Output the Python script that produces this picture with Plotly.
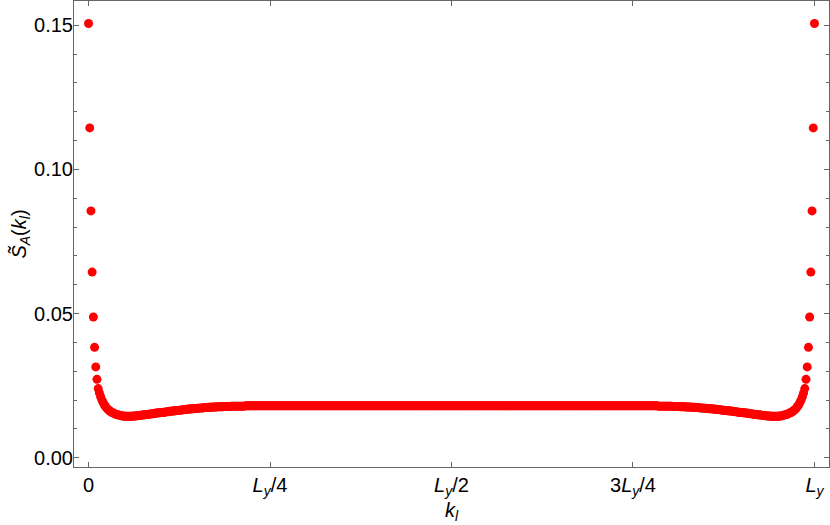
import plotly.graph_objects as go

# ---- data ----
Ly = 600
k_values = list(range(0, Ly + 1))

s_edge_left = [
    0.1506, 0.1144, 0.0856, 0.0644, 0.0488, 0.0383, 0.0315, 0.0272,
    0.0240, 0.0225, 0.0212, 0.0201, 0.0192, 0.0184, 0.0178, 0.0172, 0.0168, 0.0164, 0.0161, 0.0158,
    0.0156, 0.0154, 0.0152, 0.0150, 0.0149, 0.0148, 0.0147, 0.0146, 0.0145, 0.0145,
    0.0144, 0.0144, 0.0144, 0.0144, 0.0144, 0.0144, 0.0144, 0.0145, 0.0145, 0.0145,
    0.0146, 0.0146, 0.0147, 0.0147, 0.0148, 0.0148, 0.0149, 0.0149, 0.0150, 0.0150,
    0.0151, 0.0152, 0.0152, 0.0153, 0.0153, 0.0154, 0.0155, 0.0155, 0.0156, 0.0156,
    0.0157, 0.0157, 0.0158, 0.0158, 0.0159, 0.0160, 0.0160, 0.0161, 0.0161, 0.0162,
    0.0162, 0.0163, 0.0163, 0.0164, 0.0164, 0.0165, 0.0165, 0.0166, 0.0166, 0.0167,
    0.0167, 0.0168, 0.0168, 0.0169, 0.0169, 0.0170, 0.0170, 0.0170, 0.0171, 0.0171,
    0.0172, 0.0172, 0.0172, 0.0173, 0.0173, 0.0173, 0.0174, 0.0174, 0.0174, 0.0175,
    0.0175, 0.0175, 0.0175, 0.0176, 0.0176, 0.0176, 0.0176, 0.0177, 0.0177, 0.0177,
    0.0177, 0.0177, 0.0178, 0.0178, 0.0178, 0.0178, 0.0178, 0.0178, 0.0179, 0.0179,
    0.0179, 0.0179, 0.0179, 0.0179, 0.0179, 0.0179, 0.0179, 0.0179, 0.0179, 0.0179,
]

s_plateau = [
    0.0180, 0.0180, 0.0180, 0.0180, 0.0180, 0.0180, 0.0180, 0.0180, 0.0180, 0.0180,
    0.0180, 0.0180, 0.0180, 0.0180, 0.0180, 0.0180, 0.0180, 0.0180, 0.0180, 0.0180,
    0.0180, 0.0180, 0.0180, 0.0180, 0.0180, 0.0180, 0.0180, 0.0180, 0.0180, 0.0180,
    0.0180, 0.0180, 0.0180, 0.0180, 0.0180, 0.0180, 0.0180, 0.0180, 0.0180, 0.0180,
    0.0180, 0.0180, 0.0180, 0.0180, 0.0180, 0.0180, 0.0180, 0.0180, 0.0180, 0.0180,
    0.0180, 0.0180, 0.0180, 0.0180, 0.0180, 0.0180, 0.0180, 0.0180, 0.0180, 0.0180,
    0.0180, 0.0180, 0.0180, 0.0180, 0.0180, 0.0180, 0.0180, 0.0180, 0.0180, 0.0180,
    0.0180, 0.0180, 0.0180, 0.0180, 0.0180, 0.0180, 0.0180, 0.0180, 0.0180, 0.0180,
    0.0180, 0.0180, 0.0180, 0.0180, 0.0180, 0.0180, 0.0180, 0.0180, 0.0180, 0.0180,
    0.0180, 0.0180, 0.0180, 0.0180, 0.0180, 0.0180, 0.0180, 0.0180, 0.0180, 0.0180,
    0.0180, 0.0180, 0.0180, 0.0180, 0.0180, 0.0180, 0.0180, 0.0180, 0.0180, 0.0180,
    0.0180, 0.0180, 0.0180, 0.0180, 0.0180, 0.0180, 0.0180, 0.0180, 0.0180, 0.0180,
    0.0180, 0.0180, 0.0180, 0.0180, 0.0180, 0.0180, 0.0180, 0.0180, 0.0180, 0.0180,
    0.0180, 0.0180, 0.0180, 0.0180, 0.0180, 0.0180, 0.0180, 0.0180, 0.0180, 0.0180,
    0.0180, 0.0180, 0.0180, 0.0180, 0.0180, 0.0180, 0.0180, 0.0180, 0.0180, 0.0180,
    0.0180, 0.0180, 0.0180, 0.0180, 0.0180, 0.0180, 0.0180, 0.0180, 0.0180, 0.0180,
    0.0180, 0.0180, 0.0180, 0.0180, 0.0180, 0.0180, 0.0180, 0.0180, 0.0180, 0.0180,
    0.0180, 0.0180, 0.0180, 0.0180, 0.0180, 0.0180, 0.0180, 0.0180, 0.0180, 0.0180,
    0.0180, 0.0180, 0.0180, 0.0180, 0.0180, 0.0180, 0.0180, 0.0180, 0.0180, 0.0180,
    0.0180, 0.0180, 0.0180, 0.0180, 0.0180, 0.0180, 0.0180, 0.0180, 0.0180, 0.0180,
    0.0180, 0.0180, 0.0180, 0.0180, 0.0180, 0.0180, 0.0180, 0.0180, 0.0180, 0.0180,
    0.0180, 0.0180, 0.0180, 0.0180, 0.0180, 0.0180, 0.0180, 0.0180, 0.0180, 0.0180,
    0.0180, 0.0180, 0.0180, 0.0180, 0.0180, 0.0180, 0.0180, 0.0180, 0.0180, 0.0180,
    0.0180, 0.0180, 0.0180, 0.0180, 0.0180, 0.0180, 0.0180, 0.0180, 0.0180, 0.0180,
    0.0180, 0.0180, 0.0180, 0.0180, 0.0180, 0.0180, 0.0180, 0.0180, 0.0180, 0.0180,
    0.0180, 0.0180, 0.0180, 0.0180, 0.0180, 0.0180, 0.0180, 0.0180, 0.0180, 0.0180,
    0.0180, 0.0180, 0.0180, 0.0180, 0.0180, 0.0180, 0.0180, 0.0180, 0.0180, 0.0180,
    0.0180, 0.0180, 0.0180, 0.0180, 0.0180, 0.0180, 0.0180, 0.0180, 0.0180, 0.0180,
    0.0180, 0.0180, 0.0180, 0.0180, 0.0180, 0.0180, 0.0180, 0.0180, 0.0180, 0.0180,
    0.0180, 0.0180, 0.0180, 0.0180, 0.0180, 0.0180, 0.0180, 0.0180, 0.0180, 0.0180,
    0.0180, 0.0180, 0.0180, 0.0180, 0.0180, 0.0180, 0.0180, 0.0180, 0.0180, 0.0180,
    0.0180, 0.0180, 0.0180, 0.0180, 0.0180, 0.0180, 0.0180, 0.0180, 0.0180, 0.0180,
    0.0180, 0.0180, 0.0180, 0.0180, 0.0180, 0.0180, 0.0180, 0.0180, 0.0180, 0.0180,
    0.0180, 0.0180, 0.0180, 0.0180, 0.0180, 0.0180, 0.0180, 0.0180, 0.0180, 0.0180,
    0.0180,
]

s_edge_right = [
    0.0179, 0.0179, 0.0179, 0.0179, 0.0179, 0.0179, 0.0179, 0.0179, 0.0179, 0.0179,
    0.0179, 0.0179, 0.0178, 0.0178, 0.0178, 0.0178, 0.0178, 0.0178, 0.0177, 0.0177,
    0.0177, 0.0177, 0.0177, 0.0176, 0.0176, 0.0176, 0.0176, 0.0175, 0.0175, 0.0175,
    0.0175, 0.0174, 0.0174, 0.0174, 0.0173, 0.0173, 0.0173, 0.0172, 0.0172, 0.0172,
    0.0171, 0.0171, 0.0170, 0.0170, 0.0170, 0.0169, 0.0169, 0.0168, 0.0168, 0.0167,
    0.0167, 0.0166, 0.0166, 0.0165, 0.0165, 0.0164, 0.0164, 0.0163, 0.0163, 0.0162,
    0.0162, 0.0161, 0.0161, 0.0160, 0.0160, 0.0159, 0.0158, 0.0158, 0.0157, 0.0157,
    0.0156, 0.0156, 0.0155, 0.0155, 0.0154, 0.0153, 0.0153, 0.0152, 0.0152, 0.0151,
    0.0150, 0.0150, 0.0149, 0.0149, 0.0148, 0.0148, 0.0147, 0.0147, 0.0146, 0.0146,
    0.0145, 0.0145, 0.0145, 0.0144, 0.0144, 0.0144, 0.0144, 0.0144, 0.0144, 0.0144,
    0.0145, 0.0145, 0.0146, 0.0147, 0.0148, 0.0149, 0.0150, 0.0152, 0.0154, 0.0156,
    0.0158, 0.0161, 0.0164, 0.0168, 0.0172, 0.0178, 0.0184, 0.0192, 0.0201, 0.0212,
    0.0225, 0.0240,
    0.0272, 0.0315, 0.0383, 0.0488, 0.0644, 0.0856, 0.1144, 0.1506,
]

s_values = s_edge_left + s_plateau + s_edge_right

tick_positions = [0, 150, 300, 450, 600]
tick_labels = [
    "0",
    "<i>L</i><sub><i>y</i></sub>/4",
    "<i>L</i><sub><i>y</i></sub>/2",
    "3<i>L</i><sub><i>y</i></sub>/4",
    "<i>L</i><sub><i>y</i></sub>",
]
y_ticks = [0.00, 0.05, 0.10, 0.15]
y_tick_labels = ["0.00", "0.05", "0.10", "0.15"]

FONT = "Liberation Sans, Arial, sans-serif"
FRAME = "#666666"
FS = 20

fig = go.Figure()
fig.add_trace(go.Scatter(
    x=k_values, y=s_values, mode="markers",
    marker=dict(color="#ff0000", size=9, line=dict(width=0)),
    showlegend=False, hoverinfo="x+y",
))

fig.update_layout(
    width=830, height=525,
    margin=dict(l=74, r=1, t=1, b=58),
    paper_bgcolor="white", plot_bgcolor="white",
    font=dict(family=FONT, size=FS, color="black"),
    xaxis=dict(
        range=[-12, 612],
        tickmode="array", tickvals=tick_positions, ticktext=tick_labels,
        ticks="inside", ticklen=5, tickcolor=FRAME, tickwidth=1,
        showline=True, linecolor=FRAME, linewidth=1, mirror="ticks",
        showgrid=False, zeroline=False,
        tickfont=dict(family=FONT, size=FS, color="black"),
        title=dict(text="<i>k</i><sub><i>l</i></sub>", font=dict(family=FONT, size=FS), standoff=2),
    ),
    yaxis=dict(
        range=[-0.0032, 0.1584],
        tickmode="array", tickvals=y_ticks, ticktext=y_tick_labels,
        ticks="inside", ticklen=5, tickcolor=FRAME, tickwidth=1,
        minor=dict(ticks="inside", ticklen=3, tickcolor=FRAME, dtick=0.01, tick0=0),
        showline=True, linecolor=FRAME, linewidth=1, mirror="allticks",
        showgrid=False, zeroline=False,
        ticklabelstandoff=-4,
        tickfont=dict(family=FONT, size=FS, color="black"),
        title=dict(text="<i>S\u0303</i><sub><i>A</i></sub>(<i>k</i><sub><i>l</i></sub>)",
                   font=dict(family=FONT, size=FS), standoff=2),
    ),
)

fig.write_html(
    "out.html",
    config={"displayModeBar": False},
    post_script="document.body.style.margin='0';document.body.style.padding='0';",
)
